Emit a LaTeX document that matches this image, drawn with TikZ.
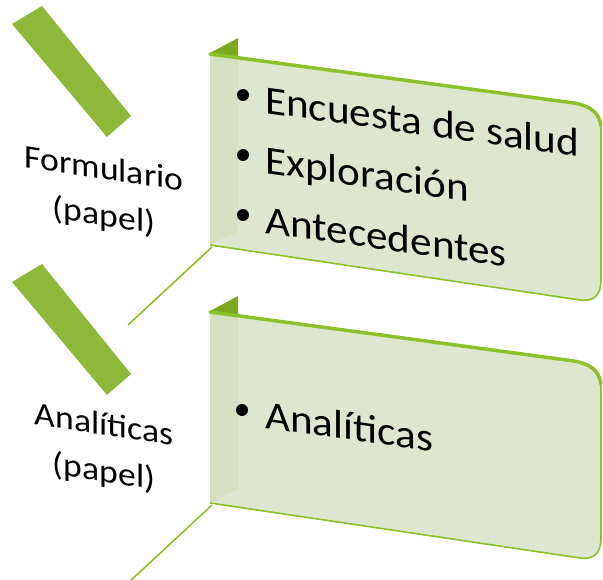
\documentclass[tikz,border=0pt]{standalone}
\usepackage{fontspec}
\setmainfont{Carlito}
\definecolor{bargreen}{HTML}{8DB83A}
\definecolor{rimgreen}{HTML}{8EC02A}
\definecolor{panelfill}{HTML}{DDE7CF}
\definecolor{stripfill}{HTML}{D3E1C0}
\definecolor{flapgreen}{HTML}{7DA820}
\tikzset{
  bar/.style={fill=bargreen},
  link/.style={rimgreen,line width=1.6pt},
  rim/.style={rimgreen,line width=3.5pt,line cap=round},
  outline/.style={rimgreen,line width=1.6pt},
  itemtext/.style={font=\fontsize{40}{48}\selectfont,inner sep=0pt,yslant=-0.14,xscale=1.08},
  sidetext/.style={font=\fontsize{33}{40}\selectfont,inner sep=0pt,yslant=-0.15,xscale=1.08,anchor=base},
  dot/.style={circle,fill=black,inner sep=0pt,minimum size=12pt}
}
\begin{document}
\begin{tikzpicture}[x=1pt,y=-1pt]
\useasboundingbox (0,0) rectangle (603,580);
\foreach \dy in {0,258}{
\begin{scope}[shift={(0,\dy)}]
\fill[bar] (12,24) -- (42,6) -- (131,116) -- (107,137) -- cycle;
\coordinate (corner) at (212,247);
\coordinate (tail) at (128,325);
\draw[link] (corner) -- (tail);
\fill[panelfill] (210,53) -- (574,103) .. controls (592,106) and (601,114) .. (601,132) -- (601,280) .. controls (601,295) and (594,302) .. (580,300) -- (210,245) -- cycle;
\fill[stripfill] (210,53) -- (238,57) -- (238,231) -- (210,245) -- cycle;
\fill[flapgreen] (210,53) -- (238,38) -- (238,57) -- cycle;
\draw[outline] (574,103) .. controls (592,106) and (601,114) .. (601,132) -- (601,280) .. controls (601,295) and (594,302) .. (580,300) -- (210,245);
\draw[rim] (210,54) -- (574,103) .. controls (590,106) and (599,112) .. (601,126);
\end{scope}
}
\node[sidetext] (f1) at (104,179) {Formulario};
\node[sidetext] (f2) at (104,226) {(papel)};
\node[sidetext] (a1) at (104,435) {Analíticas};
\node[sidetext] (a2) at (104,482) {(papel)};
\node[dot] (d1) at (243,95) {};
\node[dot] (d2) at (243,155) {};
\node[dot] (d3) at (243,215) {};
\node[dot] (d4) at (242,410) {};
\node[itemtext,anchor=base west] (e1) at (265,113) {Encuesta de salud};
\node[itemtext,anchor=base west] (e2) at (265,173) {Exploración};
\node[itemtext,anchor=base west] (e3) at (265,233) {Antecedentes};
\node[itemtext,anchor=base west] (e4) at (265,428) {Analíticas};
\end{tikzpicture}
\end{document}
